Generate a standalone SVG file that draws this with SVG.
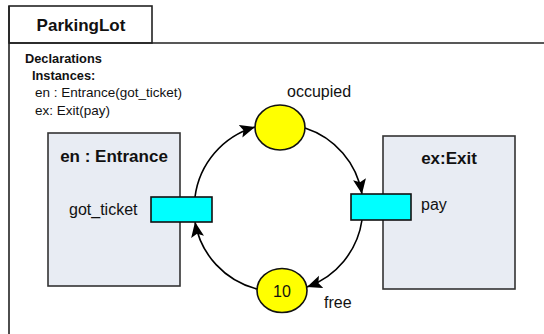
<svg xmlns="http://www.w3.org/2000/svg" width="544" height="334" viewBox="0 0 544 334">
<defs>
<style>
text{font-family:"Liberation Sans",Arial,sans-serif;fill:#111}
.b{font-weight:bold}
.frame{fill:none;stroke:#222;stroke-width:1.6}
.box{fill:#E8ECF3;stroke:#333;stroke-width:1.6}
.port{fill:#00FFFF;stroke:#111;stroke-width:1.6}
.place{fill:#FFFF00;stroke:#111;stroke-width:1.6}
.arc{fill:none;stroke:#000;stroke-width:1.6;marker-end:url(#ah)}
.t16{font-size:16px}
</style>
<marker id="ah" markerUnits="userSpaceOnUse" markerWidth="16" markerHeight="14" refX="15" refY="6.5" orient="auto">
<path d="M0,0 L15,6.5 L0,13 L3,6.5 z" fill="#000"/>
</marker>
</defs>
<g id="frame">
<rect class="frame" x="9" y="6" width="143" height="37"/>
<path class="frame" d="M9,43 H545 M9,6 V335"/>
<text class="b" x="81" y="31" font-size="17" text-anchor="middle">ParkingLot</text>
<text class="b" x="25" y="63" font-size="12.8">Declarations</text>
<text class="b" x="32" y="80" font-size="12.8">Instances:</text>
<text x="35" y="97" font-size="13.5">en : Entrance(got_ticket)</text>
<text x="35" y="115" font-size="13.5">ex: Exit(pay)</text>
</g>
<g id="connectors">
<path class="arc" d="M195,197 A84,84 0 0 1 255,127"/>
<path class="arc" d="M305,128 A84,84 0 0 1 362,194"/>
<path class="arc" d="M362,220 A84,84 0 0 1 307,287"/>
<path class="arc" d="M257,289 A84,84 0 0 1 195,222"/>
</g>
<g id="entrance">
<rect class="box" x="48" y="133" width="132" height="153"/>
<text class="b" x="114" y="162" font-size="17" text-anchor="middle">en : Entrance</text>
<text class="t16" x="69" y="215">got_ticket</text>
</g>
<g id="entrance-port">
<rect class="port" x="151" y="197" width="61" height="25"/>
</g>
<g id="exit">
<rect class="box" x="383" y="136" width="132" height="153"/>
<text class="b" x="449" y="164" font-size="17" text-anchor="middle">ex:Exit</text>
<text class="t16" x="421" y="210">pay</text>
</g>
<g id="exit-port">
<rect class="port" x="351" y="194" width="60" height="26"/>
</g>
<g id="occupied">
<ellipse class="place" cx="280" cy="127.5" rx="25" ry="22.5"/>
<text class="t16" x="287" y="97">occupied</text>
</g>
<g id="free">
<ellipse class="place" cx="282" cy="290.5" rx="25" ry="22"/>
<text class="t16" x="282" y="296.5" text-anchor="middle">10</text>
<text class="t16" x="324" y="308">free</text>
</g>
</svg>
